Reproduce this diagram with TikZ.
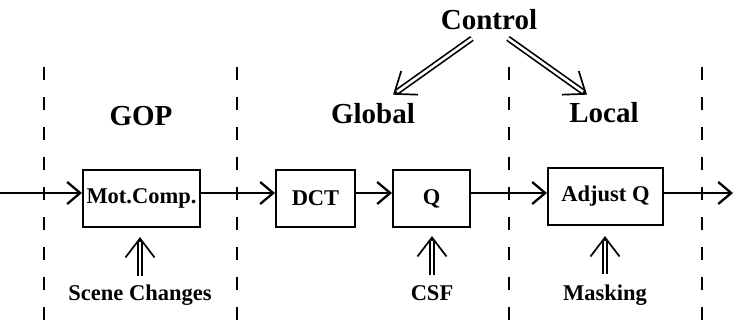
\documentclass[tikz,border=0pt]{standalone}
\usepackage{fontspec}
\setmainfont{Liberation Serif}
\usetikzlibrary{arrows.meta,calc}
% hollow (double-lined) arrow with an open V head
\newcommand\hollowarrow[2]{%
  \draw[line width=1.7pt, -{Straight Barb[length=19pt,width=29pt,line width=1.7pt]}]
    ($(#2)!6pt!(#1)$) -- (#2);
  \draw[line width=1.7pt, double=white, double distance=2.6pt, shorten >=5pt]
    (#1) -- (#2);
}
\begin{document}
\begin{tikzpicture}[x=1pt,y=-1pt,
  hdr/.style={font=\fontsize{29}{32}\selectfont\bfseries, inner sep=0pt, anchor=base},
  lbl/.style={font=\fontsize{22.5}{25}\selectfont\bfseries, inner sep=0pt, anchor=base},
  blk/.style={draw, line width=2.1pt, font=\fontsize{22.5}{25}\selectfont\bfseries,
              minimum height=57pt, inner sep=0pt},
  sep/.style={line width=2.4pt, dash pattern=on 13pt off 17pt},
  flow/.style={line width=2.7pt, -{Straight Barb[length=13pt,width=22pt,line width=2.3pt]}},
]
\useasboundingbox (0,0) rectangle (734,321);

% section separators
\draw[sep] (44,67) -- (44,321);
\draw[sep] (237,67) -- (237,321);
\draw[sep] (509,67) -- (509,321);
\draw[sep] (702,67) -- (702,321);

% headings
\node[hdr] (ctrl) at (489,30) {Control};
\node[hdr] (gop)  at (141,125) {GOP};
\node[hdr] (glob) at (373,123) {Global};
\node[hdr] (loc)  at (604,122) {Local};

% processing blocks
\node[blk, minimum width=117pt] (mc)  at (141.5,198.5) {Mot.Comp.};
\node[blk, minimum width=79pt]  (dct) at (315.5,198.5) {DCT};
\node[blk, minimum width=77pt]  (q)   at (431.5,198.5) {Q};
\node[blk, minimum width=115pt] (adj) at (605.5,196.5) {Adjust Q};

% side inputs
\node[lbl] (scene) at (140,300) {Scene Changes};
\node[lbl] (csf)   at (432,300) {CSF};
\node[lbl] (mask)  at (605,300) {Masking};

% signal path
\coordinate (in)  at (0,193);
\coordinate (out) at (733,193);
\draw[flow] (in) -- (mc.west |- in);
\draw[flow] (mc.east |- in) -- (dct.west |- in);
\draw[flow] (dct.east |- in) -- (q.west |- in);
\draw[flow] (q.east |- in) -- (adj.west |- in);
\draw[flow] (adj.east |- in) -- (out);

% control split
\coordinate (c1) at ($(ctrl.south)+(-17,8)$);
\coordinate (c2) at ($(ctrl.south)+(19,8)$);
\coordinate (g1) at ($(glob.north)+(20,-8)$);
\coordinate (l1) at ($(loc.north)+(-17,-7)$);
\hollowarrow{c1}{g1}
\hollowarrow{c2}{l1}

% side input arrows
\coordinate (s0) at ($(scene.north)+(0,-8)$);
\coordinate (s1) at ($(mc.south)+(-1.5,9)$);
\coordinate (f0) at ($(csf.north)+(0,-10)$);
\coordinate (f1) at ($(q.south)+(0.5,8)$);
\coordinate (m0) at ($(mask.north)+(0,-10)$);
\coordinate (m1) at ($(adj.south)+(-0.5,10)$);
\hollowarrow{s0}{s1}
\hollowarrow{f0}{f1}
\hollowarrow{m0}{m1}
\end{tikzpicture}
\end{document}
